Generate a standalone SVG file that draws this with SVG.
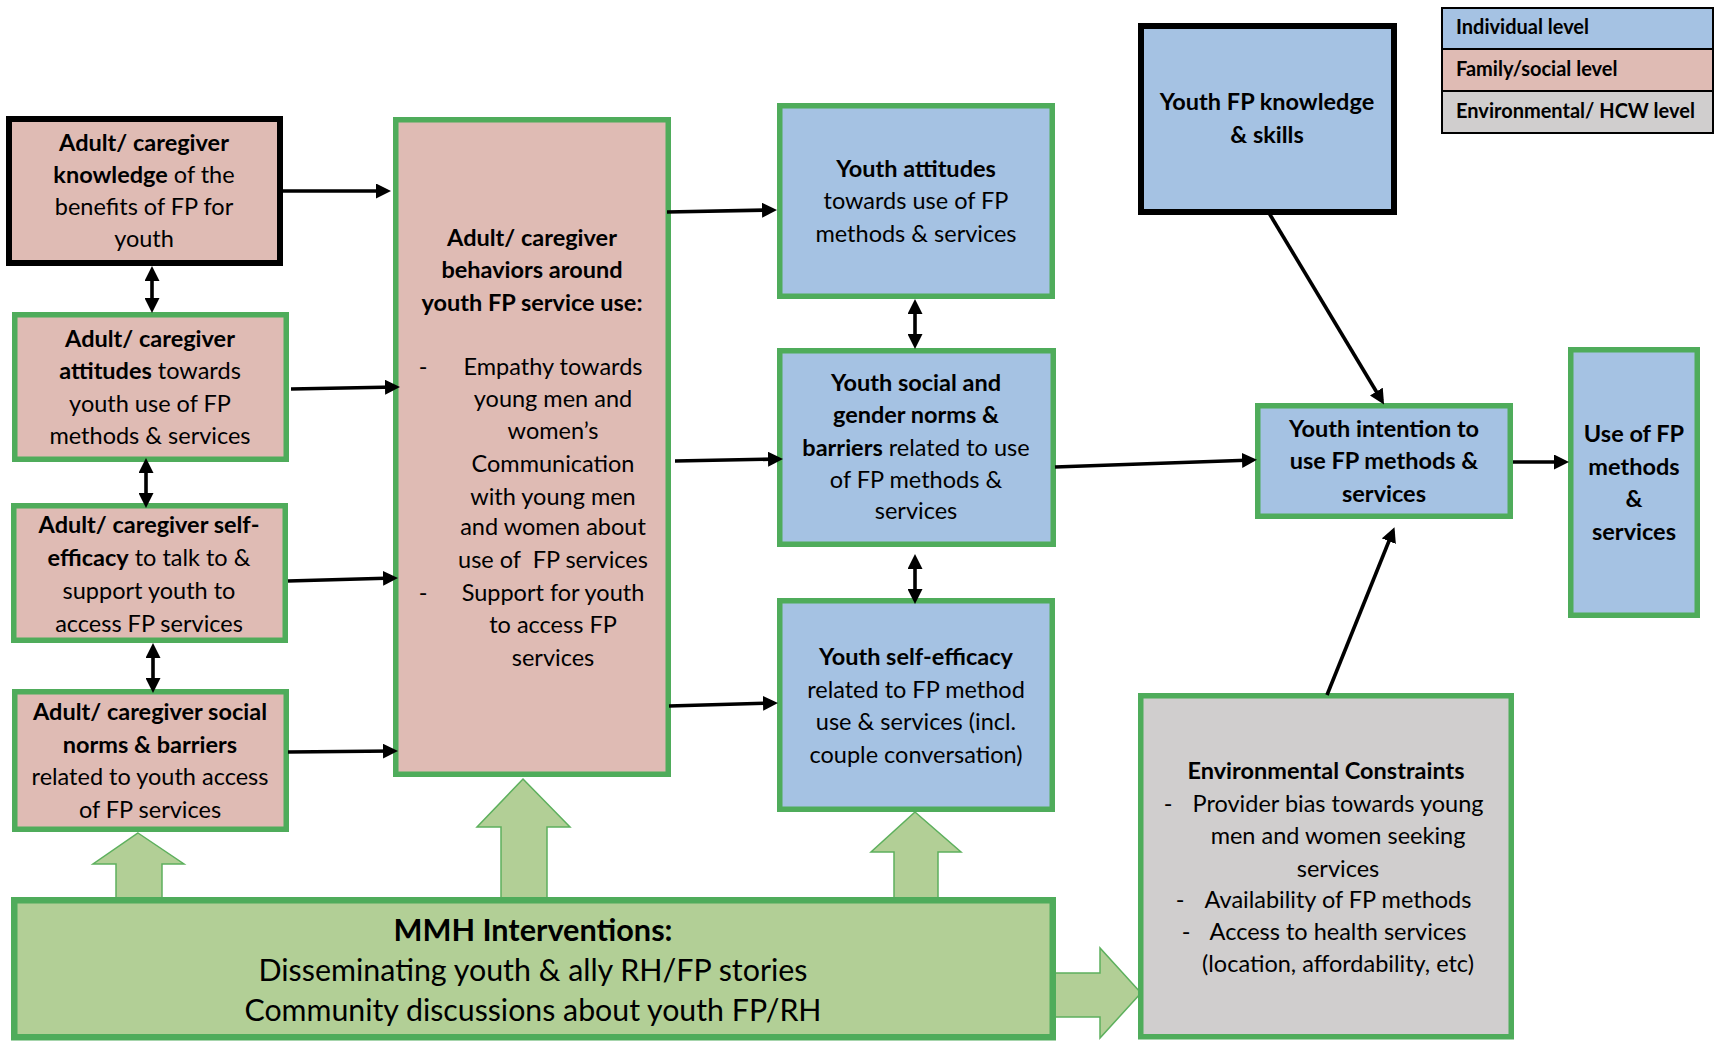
<svg xmlns="http://www.w3.org/2000/svg" width="1715" height="1041" viewBox="0 0 1715 1041">
<defs>
<style>
.pink{fill:#DFBBB4}
.blue{fill:#A5C2E3}
.gray{fill:#D0CECE}
.gb{stroke:#4FAC5B;stroke-width:5.5}
.kb{stroke:#000;stroke-width:6}
.t{font-family:Lato,"Open Sans","Liberation Sans",sans-serif;font-size:23.5px;fill:#000;text-anchor:middle}
.b{font-weight:bold}
.conn line{stroke:#000;stroke-width:3.6;fill:none}
.block{fill:#B2CF96;stroke:#5DB05D;stroke-width:1.5}
</style>
<marker id="ah" viewBox="0 0 15 15" markerWidth="15" markerHeight="15" refX="11" refY="7.5" orient="auto-start-reverse" markerUnits="userSpaceOnUse">
<path d="M0,0 L15,7.5 L0,15 z" fill="#000"/>
</marker>
</defs>
<rect width="1715" height="1041" fill="#fff"/>

<g id="block-arrows">
<polygon class="block" points="138,833 184,864 162,864 162,899 116,899 116,864 93,864"/>
<polygon class="block" points="523,779 570,827 547,827 547,899 501,899 501,827 477,827"/>
<polygon class="block" points="915,812 961,852 938,852 938,899 894,899 894,852 871,852"/>
<polygon class="block" points="1054,973 1100,973 1100,948 1141,993 1100,1038 1100,1017 1054,1017"/>
</g>

<g id="adult-knowledge">
<rect x="9" y="119" width="271" height="144" class="pink kb"/>
<text class="t"><tspan x="144" y="151" class="b">Adult/ caregiver</tspan><tspan x="144" y="183"><tspan class="b">knowledge</tspan> of the</tspan><tspan x="144" y="215">benefits of FP for</tspan><tspan x="144" y="247">youth</tspan></text>
</g>

<g id="adult-attitudes">
<rect x="14.75" y="314.75" width="271.5" height="144.5" class="pink gb"/>
<text class="t"><tspan x="150" y="347" class="b">Adult/ caregiver</tspan><tspan x="150" y="379"><tspan class="b">attitudes</tspan> towards</tspan><tspan x="150" y="412">youth use of FP</tspan><tspan x="150" y="444">methods &amp; services</tspan></text>
</g>

<g id="adult-self-efficacy">
<rect x="13.75" y="505.75" width="271.5" height="134.5" class="pink gb"/>
<text class="t"><tspan x="149" y="533" class="b">Adult/ caregiver self-</tspan><tspan x="149" y="566"><tspan class="b">efficacy</tspan> to talk to &amp;</tspan><tspan x="149" y="599">support youth to</tspan><tspan x="149" y="632">access FP services</tspan></text>
</g>

<g id="adult-norms">
<rect x="14.75" y="691.75" width="271.5" height="137.5" class="pink gb"/>
<text class="t"><tspan x="150" y="720" class="b">Adult/ caregiver social</tspan><tspan x="150" y="753" class="b">norms &amp; barriers</tspan><tspan x="150" y="785">related to youth access</tspan><tspan x="150" y="818">of FP services</tspan></text>
</g>

<g id="adult-behaviors">
<rect x="395.75" y="119.75" width="272.5" height="654.5" class="pink gb"/>
<text class="t"><tspan x="532" y="246" class="b">Adult/ caregiver</tspan><tspan x="532" y="278" class="b">behaviors around</tspan><tspan x="532" y="311" class="b">youth FP service use:</tspan></text>
<text class="t"><tspan x="423" y="375">-</tspan><tspan x="553" y="375">Empathy towards</tspan><tspan x="553" y="407">young men and</tspan><tspan x="553" y="439">women’s</tspan><tspan x="553" y="472">Communication</tspan><tspan x="553" y="505">with young men</tspan><tspan x="553" y="535">and women about</tspan><tspan x="553" y="568" xml:space="preserve">use of  FP services</tspan><tspan x="423" y="601">-</tspan><tspan x="553" y="601">Support for youth</tspan><tspan x="553" y="633">to access FP</tspan><tspan x="553" y="666">services</tspan></text>
</g>

<g id="youth-attitudes">
<rect x="779.75" y="105.75" width="272.5" height="190.5" class="blue gb"/>
<text class="t"><tspan x="916" y="177" class="b">Youth attitudes</tspan><tspan x="916" y="209">towards use of FP</tspan><tspan x="916" y="242">methods &amp; services</tspan></text>
</g>

<g id="youth-norms">
<rect x="779.75" y="350.75" width="273.5" height="193.5" class="blue gb"/>
<text class="t"><tspan x="916" y="391" class="b">Youth social and</tspan><tspan x="916" y="423" class="b">gender norms &amp;</tspan><tspan x="916" y="456"><tspan class="b">barriers</tspan> related to use</tspan><tspan x="916" y="488">of FP methods &amp;</tspan><tspan x="916" y="519">services</tspan></text>
</g>

<g id="youth-self-efficacy">
<rect x="779.75" y="600.75" width="272.5" height="208.5" class="blue gb"/>
<text class="t"><tspan x="916" y="665" class="b">Youth self-efficacy</tspan><tspan x="916" y="698">related to FP method</tspan><tspan x="916" y="730">use &amp; services (incl.</tspan><tspan x="916" y="763">couple conversation)</tspan></text>
</g>

<g id="youth-knowledge">
<rect x="1141" y="26" width="253" height="186" class="blue kb"/>
<text class="t b"><tspan x="1267" y="110">Youth FP knowledge</tspan><tspan x="1267" y="143">&amp; skills</tspan></text>
</g>

<g id="youth-intention">
<rect x="1257.75" y="405.75" width="252.5" height="110.5" class="blue gb"/>
<text class="t b"><tspan x="1384" y="437">Youth intention to</tspan><tspan x="1384" y="469">use FP methods &amp;</tspan><tspan x="1384" y="502">services</tspan></text>
</g>

<g id="use-of-fp">
<rect x="1570.75" y="349.75" width="126.5" height="265.5" class="blue gb"/>
<text class="t b"><tspan x="1634" y="442">Use of FP</tspan><tspan x="1634" y="475">methods</tspan><tspan x="1634" y="507">&amp;</tspan><tspan x="1634" y="540">services</tspan></text>
</g>

<g id="environmental">
<rect x="1140.75" y="695.75" width="370.5" height="341" class="gray gb"/>
<text class="t"><tspan x="1326" y="779" class="b">Environmental Constraints</tspan><tspan x="1168" y="812">-</tspan><tspan x="1338" y="812">Provider bias towards young</tspan><tspan x="1338" y="844">men and women seeking</tspan><tspan x="1338" y="877">services</tspan><tspan x="1180" y="908">-</tspan><tspan x="1338" y="908">Availability of FP methods</tspan><tspan x="1186" y="940">-</tspan><tspan x="1338" y="940">Access to health services</tspan><tspan x="1338" y="972">(location, affordability, etc)</tspan></text>
</g>

<g id="mmh">
<rect x="14.25" y="900.25" width="1038.5" height="137" fill="#B2CF96" stroke="#4FAC5B" stroke-width="6.5"/>
<text class="t" style="font-size:30px"><tspan x="533" y="941" class="b" textLength="279" lengthAdjust="spacingAndGlyphs">MMH Interventions:</tspan><tspan x="533" y="981" textLength="549" lengthAdjust="spacingAndGlyphs">Disseminating youth &amp; ally RH/FP stories</tspan><tspan x="533" y="1021" textLength="577" lengthAdjust="spacingAndGlyphs">Community discussions about youth FP/RH</tspan></text>
</g>

<g id="legend">
<rect x="1442" y="8" width="271" height="41" class="blue"/>
<rect x="1442" y="49" width="271" height="42" class="pink"/>
<rect x="1442" y="91" width="271" height="42" class="gray"/>
<rect x="1442" y="8" width="271" height="125" fill="none" stroke="#000" stroke-width="2"/>
<line x1="1442" y1="49" x2="1713" y2="49" stroke="#000" stroke-width="2"/>
<line x1="1442" y1="91" x2="1713" y2="91" stroke="#000" stroke-width="2"/>
<text class="t b" style="font-size:20px;text-anchor:start"><tspan x="1456" y="34">Individual level</tspan><tspan x="1456" y="76">Family/social level</tspan><tspan x="1456" y="118">Environmental/ HCW level</tspan></text>
</g>

<g id="connectors" class="conn">
<line x1="283" y1="191" x2="387" y2="191" marker-end="url(#ah)"/>
<line x1="291" y1="389" x2="396" y2="387" marker-end="url(#ah)"/>
<line x1="288" y1="581" x2="394" y2="578" marker-end="url(#ah)"/>
<line x1="288" y1="752" x2="394" y2="751" marker-end="url(#ah)"/>
<line x1="152" y1="270" x2="152" y2="309" marker-start="url(#ah)" marker-end="url(#ah)"/>
<line x1="146" y1="462" x2="146" y2="504" marker-start="url(#ah)" marker-end="url(#ah)"/>
<line x1="153" y1="647" x2="153" y2="689" marker-start="url(#ah)" marker-end="url(#ah)"/>
<line x1="667" y1="212" x2="773" y2="210" marker-end="url(#ah)"/>
<line x1="675" y1="461" x2="779" y2="459" marker-end="url(#ah)"/>
<line x1="669" y1="706" x2="774" y2="703" marker-end="url(#ah)"/>
<line x1="915" y1="303" x2="915" y2="345" marker-start="url(#ah)" marker-end="url(#ah)"/>
<line x1="915" y1="558" x2="915" y2="600" marker-start="url(#ah)" marker-end="url(#ah)"/>
<line x1="1055" y1="467" x2="1253" y2="460" marker-end="url(#ah)"/>
<line x1="1513" y1="462" x2="1565" y2="462" marker-end="url(#ah)"/>
<line x1="1269" y1="213" x2="1382" y2="401" marker-end="url(#ah)"/>
<line x1="1327" y1="695" x2="1393" y2="531" marker-end="url(#ah)"/>
</g>
</svg>
